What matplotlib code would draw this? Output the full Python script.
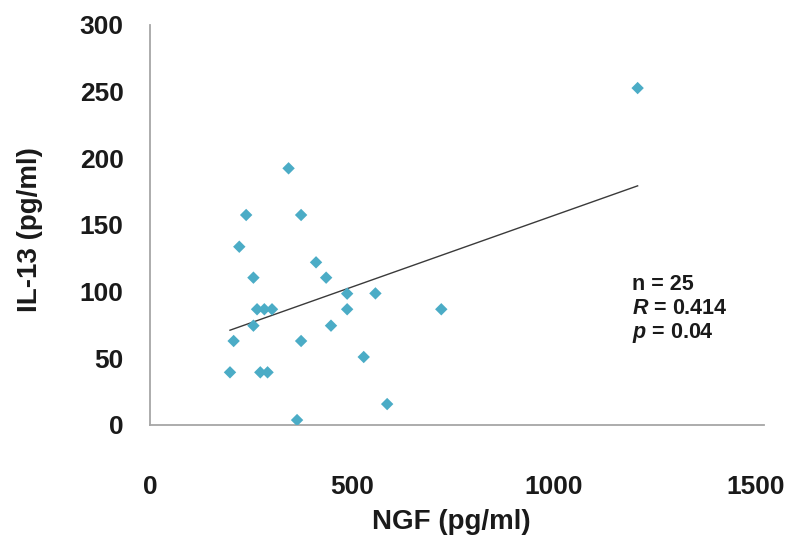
import numpy as np
import matplotlib
matplotlib.use("Agg")
import matplotlib.pyplot as plt

# Data
ngf = [343, 238, 374, 221, 411, 256, 436, 488, 265, 283, 302, 488, 256, 448,
       207, 374, 198, 273, 291, 364, 721, 587, 529, 558, 1207]
il13 = [192.5, 157.5, 157.5, 133.7, 122, 110.5, 110.5, 98.5, 86.8, 86.8, 86.8,
        86.8, 74.5, 74.5, 63, 63, 39.5, 39.5, 39.5, 3.7, 86.8, 15.7, 51, 98.7, 252.7]
x_ticks = [0, 500, 1000, 1500]
y_ticks = [0, 50, 100, 150, 200, 250, 300]
stats_lines = ["n = 25", "$R$ = 0.414", "$p$ = 0.04"]

plt.rcParams['font.family'] = ['Liberation Sans', 'DejaVu Sans']
plt.rcParams['mathtext.fontset'] = 'custom'
plt.rcParams['mathtext.it'] = 'Liberation Sans:bold:italic'
plt.rcParams['mathtext.rm'] = 'Liberation Sans:bold'

W, H = 800, 547
fig = plt.figure(figsize=(W / 100, H / 100), dpi=100)
ax = fig.add_axes([150 / W, (H - 425) / H, 606 / W, 400 / H])

x = np.array(ngf, dtype=float)
y = np.array(il13, dtype=float)
ax.scatter(x, y, marker='D', s=40, color='#4BACC6', edgecolors='none', zorder=3)

slope, intercept = np.polyfit(x, y, 1)
xs = np.array([x.min(), x.max()])
ax.plot(xs, slope * xs + intercept, color='#3a3a3a', lw=1.0, zorder=2)

ax.set_xlim(0, 1500)
ax.set_ylim(0, 300)
ax.set_xticks(x_ticks)
ax.set_yticks(y_ticks)
ax.set_xticklabels([str(t) for t in x_ticks], fontsize=19, fontweight='bold')
ax.set_yticklabels([str(t) for t in y_ticks], fontsize=19, fontweight='bold')
ax.tick_params(axis='both', length=0, colors='#1a1a1a')
ax.tick_params(axis='y', pad=19)
ax.tick_params(axis='x', pad=36)

for s in ['top', 'right']:
    ax.spines[s].set_visible(False)
for s in ['left', 'bottom']:
    ax.spines[s].set_color('#A6A6A6')
    ax.spines[s].set_linewidth(1.3)
ax.spines['bottom'].set_bounds(0, 1520)

ax.set_xlabel('NGF (pg/ml)', fontsize=20, fontweight='bold', va='center', color='#1a1a1a')
ax.xaxis.set_label_coords(0.498, -0.2425)
ax.set_ylabel('IL-13 (pg/ml)', fontsize=20, fontweight='bold', va='center', color='#1a1a1a')
ax.yaxis.set_label_coords(-0.198, 0.4875)

for i, line in enumerate(stats_lines):
    ax.text((632 - 150) / 606, (425 - 285 - 24 * i) / 400, line,
            transform=ax.transAxes, fontsize=15.5, fontweight='bold',
            ha='left', va='center', color='#1a1a1a')

fig.savefig('out.png', dpi=100)
